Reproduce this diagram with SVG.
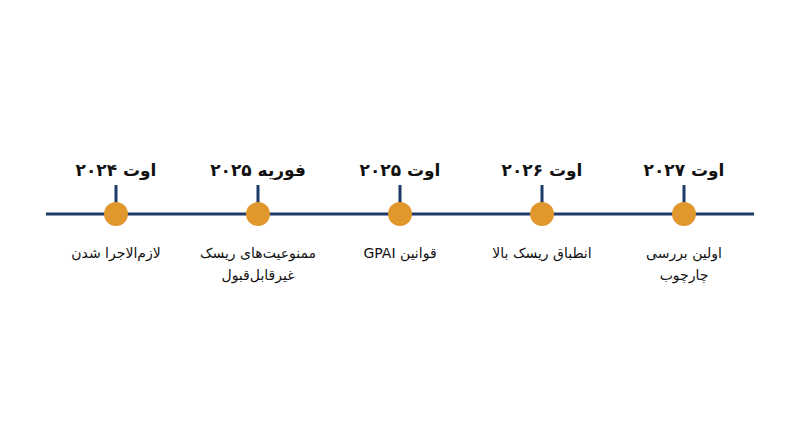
<svg xmlns="http://www.w3.org/2000/svg" width="800" height="447" viewBox="0 0 800 447">
<style>
.ln{stroke:#1b3a66;stroke-width:3;fill:none}
.dot{fill:#e0982c}
.date{font-family:"DejaVu Sans","Noto Sans",sans-serif;font-weight:bold;font-size:17px;fill:#111;text-anchor:middle}
.lbl{font-family:"DejaVu Sans","Noto Sans",sans-serif;font-size:14px;fill:#111;text-anchor:middle}
</style>
<rect width="800" height="447" fill="#fff"/>
<g id="connectors">
<line class="ln" x1="46" y1="214" x2="754" y2="214"/>
<line class="ln" x1="116" y1="185" x2="116" y2="214"/>
<line class="ln" x1="258" y1="185" x2="258" y2="214"/>
<line class="ln" x1="400" y1="185" x2="400" y2="214"/>
<line class="ln" x1="542" y1="185" x2="542" y2="214"/>
<line class="ln" x1="684" y1="185" x2="684" y2="214"/>
</g>
<g id="n2024">
<circle class="dot" cx="116" cy="214" r="12"/>
<text class="date" x="116" y="176" direction="rtl">اوت ۲۰۲۴</text>
<text class="lbl" x="116" y="258" direction="rtl">لازم‌الاجرا شدن</text>
</g>
<g id="n2025feb">
<circle class="dot" cx="258" cy="214" r="12"/>
<text class="date" x="258" y="176" direction="rtl">فوریه ۲۰۲۵</text>
<text class="lbl" x="258" y="258" direction="rtl">ممنوعیت‌های ریسک</text>
<text class="lbl" x="258" y="280" direction="rtl">غیرقابل‌قبول</text>
</g>
<g id="n2025aug">
<circle class="dot" cx="400" cy="214" r="12"/>
<text class="date" x="400" y="176" direction="rtl">اوت ۲۰۲۵</text>
<text class="lbl" x="400" y="258" direction="rtl">قوانین GPAI</text>
</g>
<g id="n2026">
<circle class="dot" cx="542" cy="214" r="12"/>
<text class="date" x="542" y="176" direction="rtl">اوت ۲۰۲۶</text>
<text class="lbl" x="542" y="258" direction="rtl">انطباق ریسک بالا</text>
</g>
<g id="n2027">
<circle class="dot" cx="684" cy="214" r="12"/>
<text class="date" x="684" y="176" direction="rtl">اوت ۲۰۲۷</text>
<text class="lbl" x="684" y="258" direction="rtl">اولین بررسی</text>
<text class="lbl" x="684" y="280" direction="rtl">چارچوب</text>
</g>
</svg>
